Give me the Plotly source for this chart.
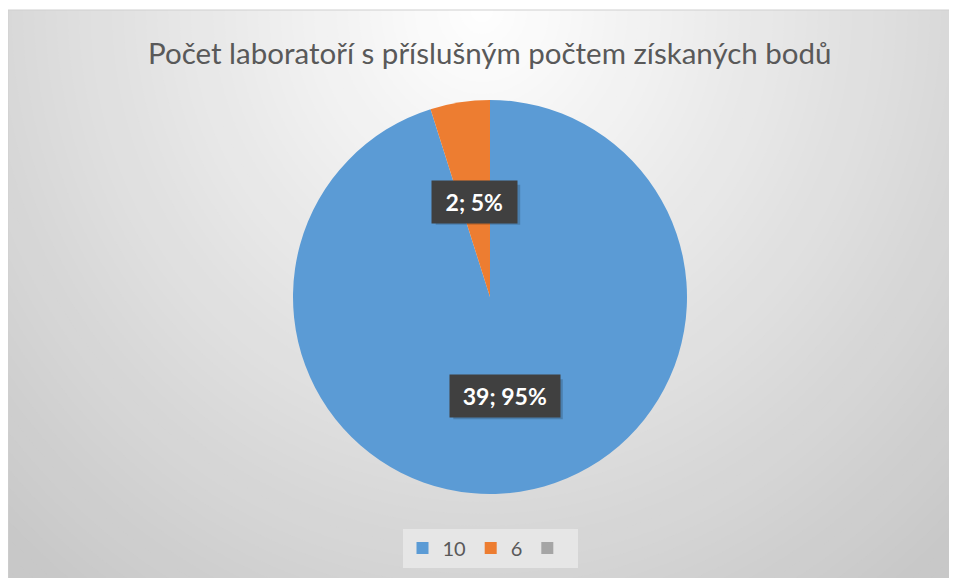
import math
import plotly.graph_objects as go

# ---- data ----
categories = ["10", "6", " "]
counts = [39, 2, 0]
colors = ["#5B9BD5", "#ED7D31", "#A5A5A5"]
title_text = "Počet laboratoří s příslušným počtem získaných bodů"

# page body has an 8px margin; figure fills the rest of the 957x578 window
OFF = 8
W, H = 957 - OFF, 578 - OFF

def px(x):
    return (x - OFF) / W

def py(y):
    return 1 - (y - OFF) / H

# pie geometry (window pixels)
CX, CY, R = 490, 297, 197

fig = go.Figure()

fig.add_trace(go.Pie(
    labels=categories,
    values=counts,
    marker=dict(colors=colors, line=dict(width=0)),
    sort=False,
    direction="clockwise",
    rotation=0,
    textinfo="none",
    hoverinfo="label+value+percent",
    domain=dict(x=[px(CX - R), px(CX + R)], y=[py(CY + R), py(CY - R)]),
    showlegend=True,
))

# ---- background radial gradient (decoration) ----
shapes = []
GX, GY = 482, 10
A, B = 560, 600
n = 70
for i in range(n):
    r = 1.4 - i * (1.4 / n)
    c = int(round(max(200, 255 - 45 * r)))
    col = f"rgb({c},{c},{c})"
    shapes.append(dict(type="circle", xref="paper", yref="paper", layer="below",
                       x0=px(GX - A * r), x1=px(GX + A * r),
                       y0=py(GY + B * r), y1=py(GY - B * r),
                       fillcolor=col, line=dict(width=0)))
# white margins outside chart area
shapes.append(dict(type="rect", xref="paper", yref="paper", layer="below",
                   x0=px(0), x1=px(8), y0=0, y1=1, fillcolor="white", line=dict(width=0)))
shapes.append(dict(type="rect", xref="paper", yref="paper", layer="below",
                   x0=0, x1=1, y0=py(10), y1=py(0), fillcolor="white", line=dict(width=0)))
shapes.append(dict(type="rect", xref="paper", yref="paper", layer="below",
                   x0=px(955), x1=px(960), y0=0, y1=1, fillcolor="white", line=dict(width=0)))
shapes.append(dict(type="rect", xref="paper", yref="paper", layer="below",
                   x0=px(8), x1=px(955), y0=py(590), y1=py(10),
                   fillcolor="rgba(0,0,0,0)", line=dict(width=1, color="#cfcfcf")))

# ---- data labels computed from the values ----
annotations = []
total = sum(counts)
cum = 0
PAD = 7
for cat, v in zip(categories, counts):
    if v == 0:
        cum += v
        continue
    mid = (cum + v / 2) / total * 2 * math.pi
    cum += v
    lx = CX + 0.5 * R * math.sin(mid)
    ly = CY - 0.5 * R * math.cos(mid) + 2
    plain = f"{v}; {round(v / total * 100)}%"
    tw = 12.5 * len(plain) + 8
    bw = tw + 2 * PAD
    bh = 40
    # drop shadow
    shapes.append(dict(type="rect", xref="paper", yref="paper", layer="above",
                       x0=px(lx - bw / 2 + 3), x1=px(lx + bw / 2 + 3),
                       y0=py(ly + bh / 2 + 3), y1=py(ly - bh / 2 + 3),
                       fillcolor="rgba(0,0,0,0.18)", line=dict(width=0)))
    annotations.append(dict(x=px(lx), y=py(ly), xref="paper", yref="paper",
                            text=f"<b>{plain}</b>", showarrow=False,
                            xanchor="center", yanchor="middle",
                            width=tw,
                            font=dict(family="Lato", size=23, color="white"),
                            bgcolor="#404040", borderpad=PAD))

annotations.append(dict(x=px(490), y=py(52), xref="paper", yref="paper",
                        text=title_text, showarrow=False, xanchor="center", yanchor="middle",
                        font=dict(family="Lato", size=29.5, color="#595959")))

fig.update_layout(
    width=W, height=H,
    margin=dict(l=0, r=0, t=0, b=0),
    paper_bgcolor="white",
    plot_bgcolor="rgba(0,0,0,0)",
    shapes=shapes,
    annotations=annotations,
    legend=dict(orientation="h", x=px(490), xanchor="center", y=py(548), yanchor="middle",
                font=dict(family="Lato", size=20, color="#595959"),
                bgcolor="#e6e6e6", itemsizing="constant", itemwidth=30),
)

fig.write_html("out.html")
